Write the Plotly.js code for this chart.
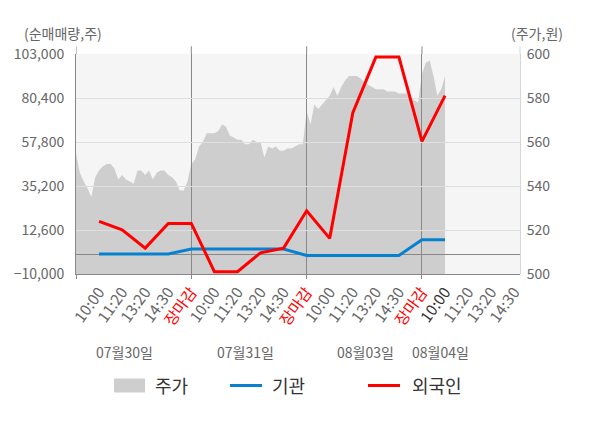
<!DOCTYPE html>
<html>
<head>
<meta charset="utf-8">
<script src="https://cdn.plot.ly/plotly-3.0.1.min.js"></script>
<style>
  html, body { margin: 0; padding: 0; background: #fff; }
  #chart { width: 600px; height: 428px; }
</style>
</head>
<body>
<div id="chart"></div>
<script>
// slot labels for each trading day, and the days themselves
const timeLabels = ['10:00', '11:20', '13:20', '14:30', '장마감'];
const dayLabels = ['07월30일', '07월31일', '08월03일', '08월04일'];

// net buying (shares) per slot, 16 slots so far
const institution = [300, 300, 300, 300, 2800, 2800, 2800, 2800, 2800, -450, -450, -450, -450, -450, 7600, 7600];
const foreign = [17000, 12700, 3300, 16000, 16000, -8800, -8800, 900, 3300, 22500, 8300, 72700, 101400, 101400, 58100, 81600];

// intraday price (won), 30 samples per day
const price0730 = [555, 546, 542, 539, 535, 544, 547, 549, 550, 550, 548, 543, 545, 543, 542, 541, 547, 547, 545, 547, 543, 546, 547, 547, 545, 544, 542, 538, 538, 542];
const price0731 = [550, 552, 558, 560, 564, 564, 564, 565, 568, 567, 563, 562, 561, 561, 559, 559, 561, 560, 560, 553, 558, 557, 558, 556, 556, 557, 557, 558, 559, 559];
const price0803 = [574, 568, 577, 575, 577, 579, 581, 585, 581, 585, 588, 590, 590, 590, 589, 587, 586, 585, 584, 584, 584, 583, 583, 583, 582, 582, 582, 580, 579, 578];
const price0804 = [591, 596, 597, 590, 581, 584, 590];

const volTicks = [-10000, 12600, 35200, 57800, 80400, 103000];
const priceTicks = [500, 520, 540, 560, 580, 600];

const slotsPerDay = timeLabels.length;
const samplesPerDay = 30;
const xMax = 19.25;

// x positions: day d occupies [5d, 5d+5], slot labels at 5d+1 .. 5d+5
const priceX = [];
const priceY = [];
[price0730, price0731, price0803, price0804].forEach((day, d) => {
  day.forEach((p, k) => {
    priceX.push(d * slotsPerDay + (k * slotsPerDay) / samplesPerDay);
    priceY.push(p);
  });
});
const slotX = foreign.map((v, i) => i + 1);

const tickVals = [];
const tickText = [];
dayLabels.forEach((day, d) => {
  timeLabels.forEach((t, i) => {
    tickVals.push(d * slotsPerDay + i + 1);
    if (t === '장마감') {
      tickText.push(`<span style="color:#ff0000">${t}</span>`);
    } else if (d === dayLabels.length - 1 && i === 0) {
      tickText.push(`<span style="color:#333333">${t}</span>`);
    } else {
      tickText.push(t);
    }
  });
});
const dayBounds = dayLabels.map((d, i) => i * slotsPerDay);

const FONT = '"Noto Sans CJK KR", "Noto Sans", sans-serif';

const traces = [
  {
    // 주가 (price area)
    type: 'scatter',
    mode: 'lines',
    x: priceX,
    y: priceY,
    xaxis: 'x',
    yaxis: 'y',
    line: { width: 0 },
    fill: 'tozeroy',
    fillcolor: '#cecece',
    hoverinfo: 'skip',
  },
  {
    // 기관
    type: 'scatter',
    mode: 'lines',
    x: slotX,
    y: institution,
    xaxis: 'x2',
    yaxis: 'y2',
    line: { color: '#0681d0', width: 3 },
    hoverinfo: 'skip',
  },
  {
    // 외국인
    type: 'scatter',
    mode: 'lines',
    x: slotX,
    y: foreign,
    xaxis: 'x2',
    yaxis: 'y2',
    line: { color: '#ff0000', width: 3 },
    hoverinfo: 'skip',
  },
];

// vertical lines poke a little above the plot area
const shapes = [
  {
    type: 'rect', xref: 'paper', yref: 'paper', x0: 0, x1: 1, y0: 0, y1: 1,
    fillcolor: '#f5f5f5', line: { width: 0 }, layer: 'below',
  },
  ...dayBounds.map((b) => ({
    type: 'line', xref: 'x2', yref: 'paper', x0: b, x1: b, y0: 1, y1: 1.035,
    line: { color: '#888888', width: 1 }, layer: 'below',
  })),
  {
    type: 'line', xref: 'paper', yref: 'paper', x0: 1, x1: 1, y0: 1, y1: 1.035,
    line: { color: '#d6d6d6', width: 1 }, layer: 'below',
  },
  // legend marks
  {
    type: 'rect', xref: 'paper', yref: 'paper', x0: 0.0856, x1: 0.1554, y0: -0.5386, y1: -0.475,
    fillcolor: '#cecece', line: { width: 0 },
  },
  {
    type: 'line', xref: 'paper', yref: 'paper', x0: 0.3468, x1: 0.4189, y0: -0.5068, y1: -0.5068,
    line: { color: '#0681d0', width: 3 },
  },
  {
    type: 'line', xref: 'paper', yref: 'paper', x0: 0.6577, x1: 0.7297, y0: -0.5068, y1: -0.5068,
    line: { color: '#ff0000', width: 3 },
  },
];

const dayLabelX = [0.110, 0.381, 0.651, 0.822];
const annotations = [
  {
    text: '(순매매량,주)', xref: 'paper', yref: 'paper', x: -0.122, y: 1.095,
    xanchor: 'left', yanchor: 'middle', showarrow: false, font: { size: 14, color: '#666666' },
  },
  {
    text: '(주가,원)', xref: 'paper', yref: 'paper', x: 0.975, y: 1.095,
    xanchor: 'left', yanchor: 'middle', showarrow: false, font: { size: 14, color: '#666666' },
  },
  ...dayLabels.map((d, i) => ({
    text: d, xref: 'paper', yref: 'paper', x: dayLabelX[i], y: -0.355,
    xanchor: 'center', yanchor: 'middle', showarrow: false, font: { size: 14, color: '#666666' },
  })),
  ...[['주가', 0.1734], ['기관', 0.4369], ['외국인', 0.7523]].map(([t, x]) => ({
    text: t, xref: 'paper', yref: 'paper', x, y: -0.5068,
    xanchor: 'left', yanchor: 'middle', showarrow: false, font: { size: 18, color: '#333333' },
  })),
];

const layout = {
  width: 600,
  height: 428,
  margin: { l: 76, r: 80, t: 54, b: 154 },
  paper_bgcolor: '#ffffff',
  plot_bgcolor: 'rgba(0,0,0,0)',
  font: { family: FONT, size: 14, color: '#666666' },
  showlegend: false,
  xaxis: {
    domain: [0, 1],
    anchor: 'y',
    range: [0, xMax],
    tickmode: 'array',
    tickvals: tickVals,
    ticktext: tickText,
    tickangle: -54,
    ticks: 'outside',
    ticklen: 2,
    tickcolor: 'rgba(0,0,0,0)',
    showgrid: false,
    zeroline: false,
    showline: false,
    tickfont: { size: 15.5, color: '#666666' },
  },
  yaxis: {
    domain: [0, 1],
    anchor: 'x',
    side: 'right',
    range: [500, 600],
    tickmode: 'array',
    tickvals: priceTicks,
    ticks: 'outside',
    ticklen: 3,
    tickcolor: 'rgba(0,0,0,0)',
    showgrid: false,
    zeroline: false,
    showline: true,
    linecolor: '#d6d6d6',
    tickfont: { size: 14, color: '#666666' },
  },
  xaxis2: {
    domain: [0, 1],
    anchor: 'y2',
    range: [0, xMax],
    tickmode: 'array',
    tickvals: dayBounds,
    showticklabels: false,
    ticks: 'outside',
    ticklen: 4,
    tickcolor: '#888888',
    showgrid: true,
    gridcolor: '#888888',
    zeroline: false,
    showline: true,
    linecolor: '#888888',
  },
  yaxis2: {
    domain: [0, 1],
    anchor: 'x2',
    side: 'left',
    range: [volTicks[0], volTicks[volTicks.length - 1]],
    tickmode: 'array',
    tickvals: volTicks,
    tickformat: ',d',
    ticks: 'outside',
    ticklen: 8,
    tickcolor: 'rgba(0,0,0,0)',
    showgrid: true,
    gridcolor: '#dedede',
    zeroline: true,
    zerolinecolor: '#888888',
    zerolinewidth: 1,
    showline: true,
    linecolor: '#888888',
    tickfont: { size: 14, color: '#666666' },
  },
  shapes,
  annotations,
};

Plotly.newPlot('chart', traces, layout, { displayModeBar: false, staticPlot: true });
</script>
</body>
</html>
